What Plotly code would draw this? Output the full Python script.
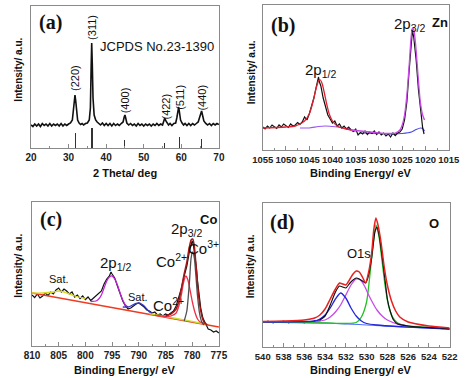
import plotly.graph_objects as go

# ---------------- (a) XRD ----------------
xrd_x = [20, 20.5, 21, 21.5, 22, 22.5, 23, 23.5, 24, 24.5, 25, 25.5, 26, 26.5, 27, 27.5, 28, 28.5, 29, 29.5,
         30, 30.5, 31, 31.3, 31.5, 31.7, 31.9, 32.1, 32.4, 32.8, 33.2, 33.6, 34, 34.5, 35, 35.5, 35.8, 36.0,
         36.15, 36.3, 36.5, 36.8, 37.2, 37.6, 38, 38.5, 39, 39.5, 40, 40.5, 41, 41.5, 42, 42.5, 43, 43.5, 44,
         44.5, 44.8, 45.0, 45.2, 45.5, 46, 46.5, 47, 47.5, 48, 48.5, 49, 49.5, 50, 50.5, 51, 51.5, 52, 52.5,
         53, 53.5, 54, 54.5, 55, 55.3, 55.6, 55.9, 56.2, 56.6, 57, 57.5, 58, 58.5, 58.8, 59.1, 59.3, 59.5,
         59.8, 60.2, 60.6, 61, 61.5, 62, 62.5, 63, 63.5, 64, 64.5, 64.9, 65.2, 65.4, 65.7, 66, 66.5, 67, 67.5,
         68, 68.5, 69, 69.5, 70]
xrd_y = [23, 21.5, 24, 22, 24, 21.5, 24.5, 22.5, 24, 22, 24.5, 22, 24, 22.5, 24, 22, 24.5, 22, 24, 22.5,
         24, 25, 28, 38, 48, 53, 47, 36, 28, 25, 23.5, 24.5, 23, 24.5, 25, 28, 40, 80,
         105, 85, 50, 33, 28, 26, 24.5, 23, 25, 22.5, 24.5, 22.5, 24.5, 22, 24.5, 22.5, 24, 22.5, 24.5,
         26, 31, 33, 30, 25, 23, 24.5, 22.5, 24, 22, 24.5, 22.5, 24, 22, 24, 22.5, 24, 22, 24,
         22.5, 24.5, 22.5, 24, 23, 26, 30, 27, 24.5, 23, 24.5, 22.5, 24.5, 25, 30, 38, 41, 36,
         28, 25, 23, 24.5, 22.5, 24.5, 22.5, 24.5, 23, 24.5, 26, 31, 36, 37, 32, 27, 24.5, 23, 24.5,
         22.5, 24.5, 23, 24.5, 23.5]
stick_x = [31.75, 36.25, 44.95, 55.65, 59.5, 65.28]
stick_h = [15, 20, 8, 5, 11, 9]
hkl_labels = ["(220)", "(311)", "(400)", "(422)", "(511)", "(440)"]
hkl_x = [31.7, 36.2, 45.1, 55.8, 59.6, 65.4]
hkl_y = [70, 121, 48, 41, 51, 50]

# ---------------- (b) Zn 2p ----------------
zn_x = [1055, 1054.5, 1054, 1053.5, 1053, 1052.5, 1052, 1051.5, 1051, 1050.5, 1050, 1049.5, 1049, 1048.5,
        1048, 1047.5, 1047, 1046.5, 1046, 1045.5, 1045, 1044.5, 1044, 1043.5, 1043.2, 1043, 1042.8, 1042.5,
        1042, 1041.5, 1041, 1040.5, 1040, 1039.5, 1039, 1038.5, 1038, 1037.5, 1037, 1036.5, 1036, 1035.5,
        1035, 1034.5, 1034, 1033.5, 1033, 1032.5, 1032, 1031.5, 1031, 1030.5, 1030, 1029.5, 1029, 1028.5,
        1028, 1027.5, 1027, 1026.5, 1026, 1025.5, 1025, 1024.5, 1024, 1023.5, 1023, 1022.8, 1022.5, 1022,
        1021.5, 1021, 1020.6, 1020.3]
zn_y = [23, 21, 24, 22, 25, 23, 21.5, 25, 23, 26, 24, 22.5, 26, 24, 25, 27.5, 25.5, 28, 33, 30, 36, 44,
        52, 63, 70, 73, 68, 64, 52, 43, 35, 31, 27, 29, 24, 26, 22, 24, 21, 23, 20, 18.5, 21, 15, 17.5, 16,
        19, 15.5, 18, 16.5, 19, 15.5, 18, 15, 17, 14, 16, 13, 17, 14.5, 17, 18, 21, 30, 48, 80, 112, 120,
        112, 90, 60, 35, 22, 16]
zn_fit1_x = [1055, 1052, 1050, 1048, 1047, 1046, 1045, 1044.5, 1044, 1043.5, 1043, 1042.6, 1042.2, 1041.7,
             1041.2, 1040.7, 1040, 1039, 1038, 1037, 1036, 1035]
zn_fit1_y = [22, 22.5, 23, 24, 26, 29, 36, 43, 52, 62, 69, 70, 66, 56, 45, 36, 29, 24, 22, 21, 20, 19]
zn_fit2_x = [1036, 1034, 1032, 1030, 1028, 1026.5, 1025.5, 1025, 1024.5, 1024, 1023.5, 1023.1, 1022.8,
             1022.5, 1022.1, 1021.6, 1021.1, 1020.6, 1020.2]
zn_fit2_y = [20, 19, 18, 17, 16.5, 17, 20, 25, 35, 55, 85, 112, 122, 120, 105, 75, 48, 35, 30]
zn_bg1_x = [1047, 1045, 1043, 1041.5, 1040, 1038, 1036]
zn_bg1_y = [22, 22, 23.5, 24, 23.5, 22.5, 21]
zn_bg2_x = [1034, 1030, 1027, 1025, 1023, 1022, 1021, 1020.5, 1020.2]
zn_bg2_y = [17, 16.5, 16, 16.5, 18, 20.5, 22, 21, 19]

# ---------------- (c) Co 2p ----------------
co_x = [810, 809.5, 809, 808.5, 808, 807.5, 807, 806.5, 806, 805.5, 805, 804.5, 804, 803.5, 803, 802.5, 802,
        801.5, 801, 800.5, 800, 799.5, 799, 798.5, 798, 797.5, 797, 796.5, 796, 795.5, 795.2, 795, 794.5,
        794, 793.5, 793, 792.5, 792, 791.5, 791, 790.5, 790, 789.5, 789, 788.5, 788, 787.5, 787, 786.5,
        786, 785.5, 785, 784.5, 784, 783.5, 783, 782.5, 782, 781.5, 781, 780.5, 780.2, 780, 779.8, 779.5,
        779.2, 779, 778.7, 778.4, 778, 777.5, 777, 776.5, 776, 775.5, 775]
co_y = [51, 48.5, 52, 48, 50, 53, 50.5, 54, 52, 56, 58, 54, 57, 55, 52, 54, 49, 51, 47.5, 50, 46.5, 49, 45.5,
        48, 50, 52, 55, 62, 67, 70, 74, 72, 68, 60, 52, 45, 40, 37, 38, 40, 42, 43, 41, 39, 36, 35, 33, 34,
        31, 32, 30, 32, 31, 33, 35, 40, 48, 58, 70, 80, 95, 103, 105, 102, 92, 78, 65, 50, 38, 28, 22, 17,
        16, 14, 15, 13]
co_bg_x = [810, 775]
co_bg_y = [53, 19]
co_sat1_x = [810, 808, 806, 805, 804, 802, 800]
co_sat1_y = [53, 53, 54, 55, 54, 50, 47.5]
co_sat2_x = [788, 785, 782, 779, 777]
co_sat2_y = [32.5, 29.5, 26.5, 23.5, 21.5]
co_p12_x = [799, 798, 797.5, 797, 796.5, 796, 795.5, 795, 794.5, 794, 793.5, 793, 792.5, 792]
co_p12_y = [44.5, 45, 47, 51, 58, 65, 69, 70, 67, 61, 53, 46, 41, 39]
co_satb_x = [793, 792, 791.5, 791, 790.5, 790, 789.5, 789, 788.5, 788, 787.5]
co_satb_y = [39, 39, 40, 41.5, 42.5, 43, 42, 40, 37, 34, 33]
co2_x = [787, 785, 784, 783, 782.5, 782, 781.6, 781.2, 780.8, 780.4, 780, 779.5, 779, 778.5, 778, 777]
co2_y = [31, 29.5, 30, 33, 40, 52, 64, 70, 66, 56, 45, 34, 27, 24, 23, 21]
co3_x = [781.5, 781, 780.5, 780.2, 779.9, 779.6, 779.3, 779, 778.6, 778.2, 777.8]
co3_y = [25, 35, 65, 88, 94, 88, 70, 50, 32, 24, 21]
co_env_x = [785, 784, 783, 782.5, 782, 781.5, 781, 780.6, 780.2, 779.9, 779.6, 779.3, 779, 778.6, 778.2,
            777.8, 777.2]
co_env_y = [30, 32, 37, 45, 58, 72, 84, 97, 106, 107, 100, 82, 62, 42, 30, 24, 21]

# ---------------- (d) O 1s ----------------
o_pts_x = [540, 539.5, 539, 538.5, 538, 537.5, 537, 536.5, 536, 535.5, 535, 534.5]
o_pts_y = [25, 25.5, 24.5, 25, 25.5, 24.5, 25, 25.5, 24.5, 25, 26, 27]
o_x = [534.5, 534, 533.5, 533, 532.6, 532.3, 532, 531.6, 531.3, 531, 530.7, 530.4, 530.1, 529.8, 529.5,
       529.2, 529.0, 528.8, 528.5, 528.2, 528, 527.7, 527.4, 527, 526, 525, 524, 523, 522]
o_y = [27, 31, 42, 55, 61, 60, 59, 64, 67, 69, 68, 66, 64, 72, 90, 115, 120, 112, 90, 65, 48, 35, 27, 23,
       21, 20, 19.5, 19, 18]
o_base_x = [540, 534, 530, 527.5, 524, 522]
o_base_y = [25, 24, 22, 20.5, 19, 18]
o_green_x = [540, 534, 532, 531, 530.5, 530, 529.7, 529.4, 529.1, 528.8, 528.5, 528.2, 527.9, 527.5, 527,
             526, 524, 522]
o_green_y = [25, 24, 23.5, 24.5, 30, 45, 70, 100, 122, 110, 85, 60, 42, 30, 24, 21, 19.5, 18]
o_purple_x = [535, 534, 533.5, 533, 532.5, 532, 531.5, 531, 530.6, 530.2, 529.8, 529.4, 529, 528.5, 528,
              527, 526]
o_purple_y = [25, 27, 30, 35, 42, 52, 62, 68, 67, 61, 52, 44, 37, 31, 27, 23, 21]
o_blue_x = [540, 535, 534.5, 534, 533.5, 533, 532.5, 532, 531.5, 531, 530.5, 530, 529, 527, 525, 522]
o_blue_y = [25, 26, 28, 32, 39, 48, 54, 49, 39, 31, 26, 23.5, 22, 20.5, 19.5, 18]
o_env_x = [540, 538, 536, 535, 534.5, 534, 533.5, 533, 532.6, 532.3, 532, 531.6, 531.3, 531, 530.7, 530.4,
           530.1, 529.8, 529.5, 529.3, 529.1, 528.9, 528.6, 528.3, 528, 527.6, 527.2, 526.8, 526, 524, 522]
o_env_y = [25.5, 26, 27, 29, 32, 38, 48, 58, 64, 63, 62, 68, 73, 76, 75, 70, 64, 75, 95, 118, 129, 122,
           104, 80, 62, 46, 36, 30, 25, 21, 19]

SANS = "Liberation Sans"
SERIF = "Liberation Serif"

fig = go.Figure()

def line(x, y, color, xa, ya, width=1.3, dash=None):
    fig.add_trace(go.Scatter(x=x, y=y, mode="lines", xaxis=xa, yaxis=ya,
                             line=dict(color=color, width=width, dash=dash, shape="spline", smoothing=0.6),
                             hoverinfo="skip"))

# (a)
fig.add_trace(go.Bar(x=stick_x, y=stick_h, width=[0.25, 0.4, 0.25, 0.25, 0.25, 0.25],
                     marker=dict(color="#333333", line=dict(width=0)), xaxis="x", yaxis="y"))
fig.add_trace(go.Scatter(x=xrd_x, y=xrd_y, mode="lines", xaxis="x", yaxis="y",
                         line=dict(color="#111111", width=1.6)))
# (b)
line(zn_bg1_x, zn_bg1_y, "#9b55f0", "x2", "y2", 1.1)
line(zn_bg2_x, zn_bg2_y, "#4a4ae8", "x2", "y2", 1.1)
fig.add_trace(go.Scatter(x=zn_x, y=zn_y, mode="lines", xaxis="x2", yaxis="y2",
                         line=dict(color="#111111", width=1.2)))
line(zn_fit1_x, zn_fit1_y, "#e02030", "x2", "y2", 1.3)
line(zn_fit2_x, zn_fit2_y, "#c848e8", "x2", "y2", 1.3)
# (c)
fig.add_trace(go.Scatter(x=co_x, y=co_y, mode="lines", xaxis="x3", yaxis="y3",
                         line=dict(color="#111111", width=1.2)))
line(co_bg_x, co_bg_y, "#f03a20", "x3", "y3", 1.6)
line(co_sat1_x, co_sat1_y, "#d8d820", "x3", "y3", 1.3)
line(co_sat2_x, co_sat2_y, "#c8e030", "x3", "y3", 1.3)
line(co_p12_x, co_p12_y, "#c020d8", "x3", "y3", 1.3)
line(co_satb_x, co_satb_y, "#3838c8", "x3", "y3", 1.3)
line(co2_x, co2_y, "#f03048", "x3", "y3", 1.3)
line(co3_x, co3_y, "#505050", "x3", "y3", 1.3)
line(co_env_x, co_env_y, "#a01818", "x3", "y3", 1.5)
# (d)
line(o_base_x, o_base_y, "#5070ff", "x4", "y4", 1.2)
fig.add_trace(go.Scatter(x=o_pts_x, y=o_pts_y, mode="lines+markers", xaxis="x4", yaxis="y4",
                         line=dict(color="#1a1a80", width=1.2), marker=dict(size=2, color="#1a1a80")))
line(o_green_x, o_green_y, "#22c022", "x4", "y4", 1.3)
line(o_purple_x, o_purple_y, "#c84ae8", "x4", "y4", 1.3)
line(o_blue_x, o_blue_y, "#2424e0", "x4", "y4", 1.3)
fig.add_trace(go.Scatter(x=o_x, y=o_y, mode="lines", xaxis="x4", yaxis="y4",
                         line=dict(color="#111111", width=1.2, shape="spline", smoothing=0.5)))
line(o_env_x, o_env_y, "#e82020", "x4", "y4", 1.5)

W, H = 474, 378
def dom(px0, px1):
    return [px0 / W, px1 / W]
def vdom(top, bottom):
    return [1 - bottom / H, 1 - top / H]

def xax(rng, dtick, minor_dtick, domain, anchor, fsize=10):
    return dict(range=rng, domain=domain, anchor=anchor, dtick=dtick, tick0=0, tickangle=0,
                showline=True, mirror=True, linecolor="#8a8a8a", linewidth=1.2,
                ticks="inside", ticklen=4, tickcolor="#8a8a8a", tickwidth=1,
                minor=dict(dtick=minor_dtick, ticks="inside", ticklen=2, tickcolor="#8a8a8a"),
                showgrid=False, zeroline=False,
                tickfont=dict(family=SANS, size=fsize, color="#222222", weight="bold"))

def yax(rng, domain, anchor):
    return dict(range=rng, domain=domain, anchor=anchor, showline=True, mirror=True,
                linecolor="#8a8a8a", linewidth=1.2, showticklabels=False, ticks="",
                showgrid=False, zeroline=False, fixedrange=True)

fig.update_layout(
    width=W, height=H, margin=dict(l=0, r=0, t=0, b=0),
    paper_bgcolor="white", plot_bgcolor="white", showlegend=False, bargap=0,
    xaxis=xax([20, 70], 10, 5, dom(21, 218), "y"),
    yaxis=yax([0, 142], vdom(6, 148), "x"),
    xaxis2=xax([1055, 1015], 5, 2.5, dom(264, 459), "y2", 9.5),
    yaxis2=yax([0, 145], vdom(5, 150), "x2"),
    xaxis3=xax([810, 775], 5, 2.5, dom(22, 218), "y3"),
    yaxis3=yax([0, 144], vdom(202, 346), "x3"),
    xaxis4=xax([540, 522], 2, 1, dom(264, 460), "y4", 9.5),
    yaxis4=yax([0, 144], vdom(203, 347), "x4"),
)

ann = []
def txt(text, x, y, xref, yref, size=13, family=SANS, angle=0, color="#111111"):
    ann.append(dict(text=text, x=x, y=y, xref=xref, yref=yref, showarrow=False, textangle=angle,
                    xanchor="center", yanchor="middle", font=dict(family=family, size=size, color=color)))

# panel letters
txt("<b>(a)</b>", 25.2, 125, "x", "y", 20, SERIF)
txt("<b>(b)</b>", 1050.7, 125, "x2", "y2", 20, SERIF)
txt("<b>(c)</b>", 806.4, 127, "x3", "y3", 20, SERIF)
txt("<b>(d)</b>", 538.1, 125, "x4", "y4", 20, SERIF)

# (a)
txt("JCPDS No.23-1390", 53.5, 101, "x", "y", 13)
for lab, hx, hy in zip(hkl_labels, hkl_x, hkl_y):
    txt(lab, hx, hy, "x", "y", 11, angle=-90)
# (b)
txt("2p<sub>1/2</sub>", 1042.5, 80, "x2", "y2", 15)
txt("2p<sub>3/2</sub>", 1023.5, 126, "x2", "y2", 15)
txt("<b>Zn</b>", 1016.8, 128, "x2", "y2", 13)
# (c)
txt("Sat.", 805, 67, "x3", "y3", 11)
txt("2p<sub>1/2</sub>", 794.3, 83, "x3", "y3", 15)
txt("Sat.", 790.1, 49, "x3", "y3", 11)
txt("Co<sup>2+</sup>", 784.5, 42, "x3", "y3", 15)
txt("Co<sup>2+</sup>", 783.9, 86, "x3", "y3", 15)
txt("2p<sub>3/2</sub>", 781.0, 117, "x3", "y3", 15)
txt("<b>Co</b>", 777.0, 127, "x3", "y3", 13)
txt("Co<sup>3+</sup>", 777.9, 99, "x3", "y3", 15)
# (d)
txt("O1s", 530.7, 94, "x4", "y4", 13)
txt("<b>O</b>", 523.5, 124, "x4", "y4", 13)

# axis titles
txt("<b>2 Theta/ deg</b>", 120 / W, 1 - 173 / H, "paper", "paper", 11)
txt("<b>Binding Energy/ eV</b>", 367 / W, 1 - 173 / H, "paper", "paper", 11)
txt("<b>Binding Energy/ eV</b>", 120 / W, 1 - 370 / H, "paper", "paper", 11)
txt("<b>Binding Energy/ eV</b>", 367 / W, 1 - 370 / H, "paper", "paper", 11)
for xp, yp in [(8, 70), (252, 72), (7, 266), (251, 266)]:
    txt("<b>Intensity/ a.u.</b>", xp / W, 1 - yp / H, "paper", "paper", 10, angle=-90)

fig.update_layout(annotations=ann)
fig.write_html("out.html", config={"displayModeBar": False, "staticPlot": True},
               post_script="document.body.style.margin='0';document.body.style.padding='0';"
                           "document.body.style.overflow='hidden';")
